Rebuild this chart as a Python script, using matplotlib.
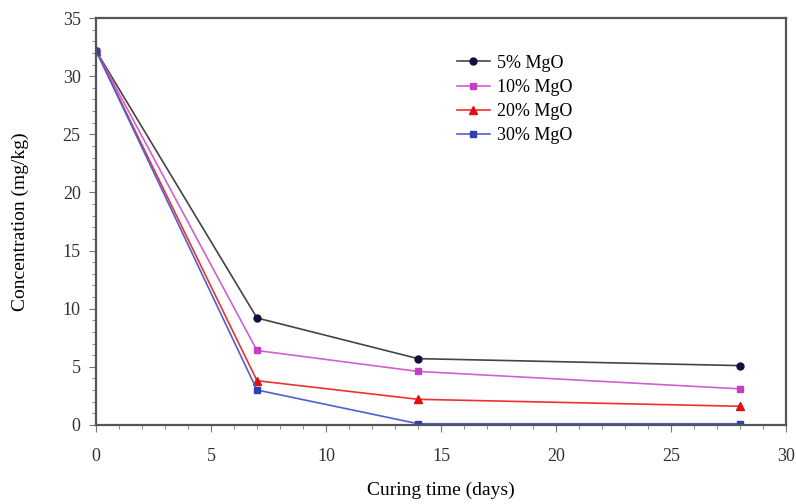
import matplotlib
matplotlib.use("Agg")
import matplotlib.pyplot as plt
from matplotlib.ticker import MultipleLocator

plt.rcParams['font.family'] = ['Liberation Serif', 'DejaVu Serif']

days = [0, 7, 14, 28]
mgo_5 = [32.2, 9.2, 5.7, 5.1]
mgo_10 = [32.2, 6.4, 4.6, 3.1]
mgo_20 = [32.2, 3.8, 2.2, 1.6]
mgo_30 = [32.2, 3.0, 0.1, 0.1]
labels = ['5% MgO', '10% MgO', '20% MgO', '30% MgO']

fig = plt.figure(figsize=(7.96, 5.04), dpi=100)
ax = fig.add_axes([0.1206, 0.157, 0.8668, 0.807])

ax.plot(days, mgo_5, color='#444444', marker='o', markersize=5,
        markerfacecolor='#101040', markeredgecolor='#101040', lw=1.2, label=labels[0])
ax.plot(days, mgo_10, color='#d060d0', marker='s', markersize=5,
        markerfacecolor='#c040c0', markeredgecolor='#c040c0', lw=1.2, label=labels[1])
ax.plot(days, mgo_20, color='#f03030', marker='^', markersize=5.5,
        markerfacecolor='#e01010', markeredgecolor='#e01010', lw=1.2, label=labels[2])
ax.plot(days, mgo_30, color='#5060d0', marker='s', markersize=4.5,
        markerfacecolor='#3040b0', markeredgecolor='#3040b0', lw=1.2, label=labels[3])

ax.set_xlim(0, 30)
ax.set_ylim(0, 35)
ax.xaxis.set_major_locator(MultipleLocator(5))
ax.xaxis.set_minor_locator(MultipleLocator(1))
ax.yaxis.set_major_locator(MultipleLocator(5))
ax.yaxis.set_minor_locator(MultipleLocator(1))
ax.tick_params(which='both', direction='out', labelsize=13, color='#777777',
               labelcolor='#333333')
ax.tick_params(which='major', length=5)
ax.tick_params(which='minor', length=3)
ax.tick_params(axis='x', pad=12)
ax.tick_params(axis='y', pad=6)
for s in ax.spines.values():
    s.set_color('#555555')
    s.set_linewidth(1.6)

ax.set_xlabel('Curing time (days)', fontsize=14, labelpad=12)
ax.set_ylabel('Concentration (mg/kg)', fontsize=14, labelpad=24)

ax.legend(loc='upper left', bbox_to_anchor=(0.5, 0.95), frameon=False,
          fontsize=13, handlelength=1.8, labelspacing=0.4, handletextpad=0.4)

fig.savefig('out.png', dpi=100)
